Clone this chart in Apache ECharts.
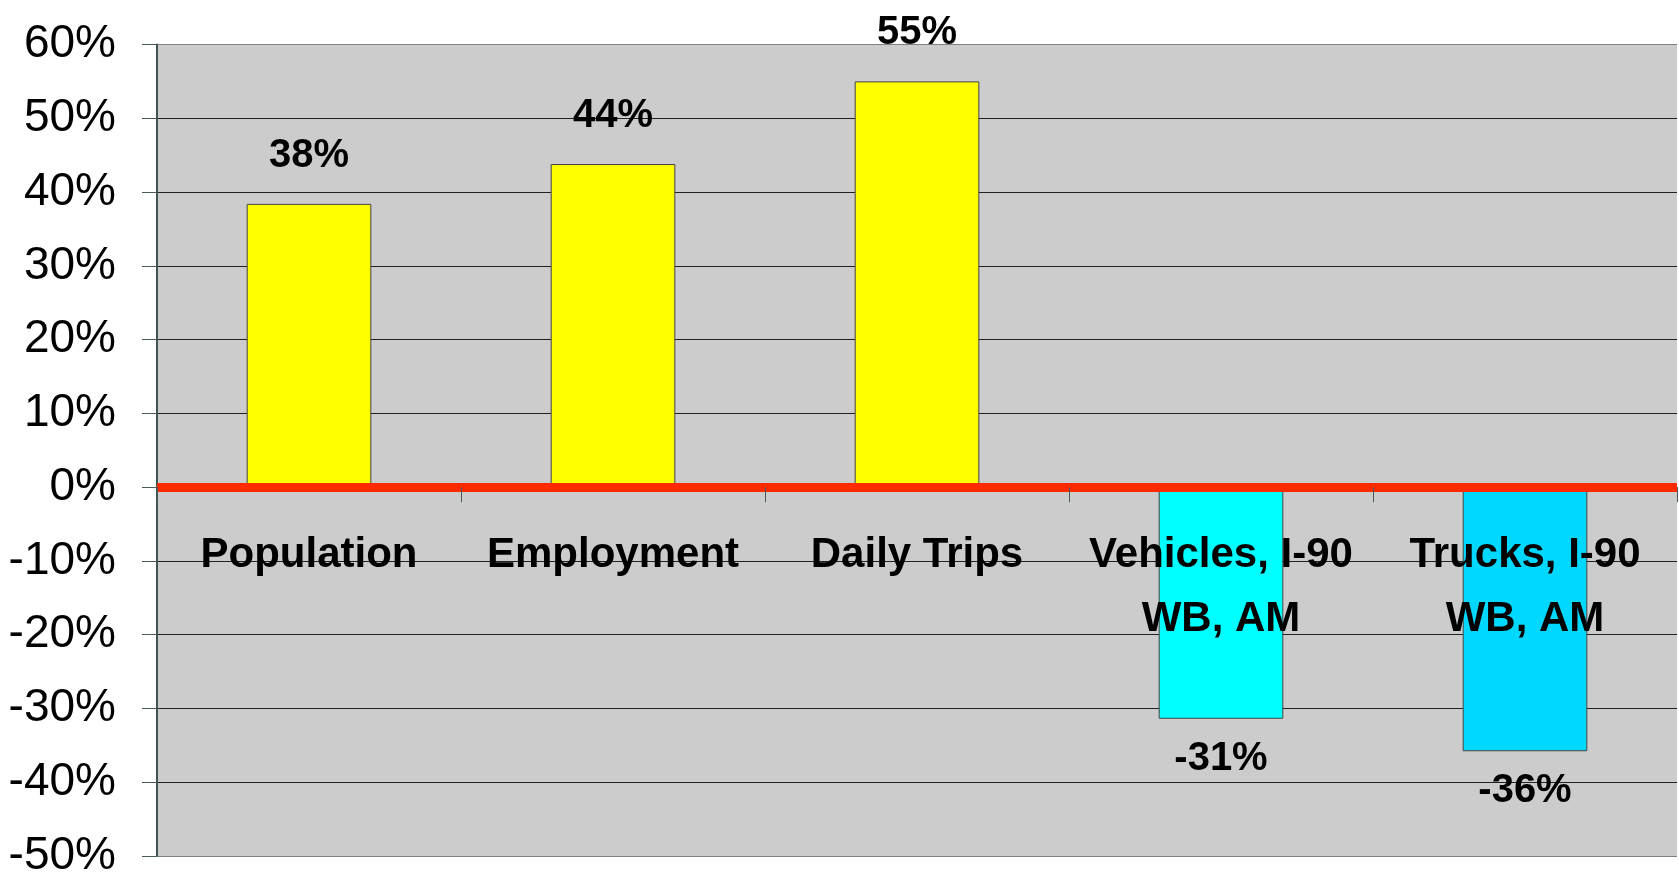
<!DOCTYPE html>
<html>
<head>
<meta charset="utf-8">
<script src="https://cdn.jsdelivr.net/npm/echarts@6/dist/echarts.min.js"></script>
<style>
html,body{margin:0;padding:0;background:#fff;}
#chart{width:1679px;height:875px;}
</style>
</head>
<body>
<div id="chart"></div>
<script>
const categories = ["Population", "Employment", "Daily Trips", "Vehicles, I-90\nWB, AM", "Trucks, I-90\nWB, AM"];
const changePct = [38.4, 43.8, 55.0, -31.4, -35.8];
const yTicks = { min: -50, max: 60, step: 10 };

const barColors = ["#ffff00", "#ffff00", "#ffff00", "#00ffff", "#00d8ff"];
const gridColors = ["#808080", "#222", "#222", "#222", "#222", "#222", "#222", "#222", "#222", "#222", "#222", "#808080"];
const FONT = "'Liberation Sans', Arial, sans-serif";
const GRID = { left: 157, right: 2, top: 44.5, bottom: 19 };
const H = 875;

const chart = echarts.init(document.getElementById('chart'));
chart.setOption({
  animation: false,
  grid: Object.assign({ show: true, backgroundColor: '#cccccc', borderWidth: 0, containLabel: false, outerBoundsMode: 'none' }, GRID),
  xAxis: {
    type: 'category',
    data: categories,
    position: 'bottom',
    offset: 0,
    z: 10,
    axisLine: { onZero: false, lineStyle: { color: '#ff2a00', width: 1 } },
    axisTick: { show: true, length: 15, lineStyle: { color: '#4a5a5a' } },
    axisLabel: { interval: 0, margin: 36, fontFamily: FONT, fontSize: 42, fontWeight: 'bold', color: '#000', lineHeight: 64 },
    splitLine: { show: false }
  },
  yAxis: {
    type: 'value',
    min: yTicks.min, max: yTicks.max, interval: yTicks.step,
    axisLine: { show: true, lineStyle: { color: '#3f5555', width: 2 } },
    axisTick: { show: true, length: 15, lineStyle: { color: '#4a5a5a' } },
    axisLabel: { formatter: '{value}%', margin: 41, fontFamily: FONT, fontSize: 46, color: '#000' },
    splitLine: { show: true, lineStyle: { color: gridColors, width: 1 } }
  },
  series: [{
    type: 'bar',
    barWidth: '41%',
    data: changePct.map((v, i) => ({
      value: v,
      itemStyle: { color: barColors[i] },
      label: v >= 0 ? { position: 'top', distance: 28 } : { position: 'bottom', distance: 20 }
    })),
    itemStyle: { borderColor: '#444', borderWidth: 1 },
    label: {
      show: true,
      formatter: p => Math.round(p.value) + '%',
      fontFamily: FONT, fontSize: 40, fontWeight: 'bold', color: '#000'
    },
    markLine: {
      silent: true,
      symbol: 'none',
      label: { show: false },
      lineStyle: { color: '#ff2a00', width: 9, type: 'solid' },
      data: [{ yAxis: 0 }]
    }
  }]
});
// move the category axis (line, ticks, labels) up to the zero value of the y scale
const zeroY = chart.convertToPixel({ yAxisIndex: 0 }, 0);
chart.setOption({ xAxis: { offset: zeroY - (H - GRID.bottom) } });
</script>
</body>
</html>
